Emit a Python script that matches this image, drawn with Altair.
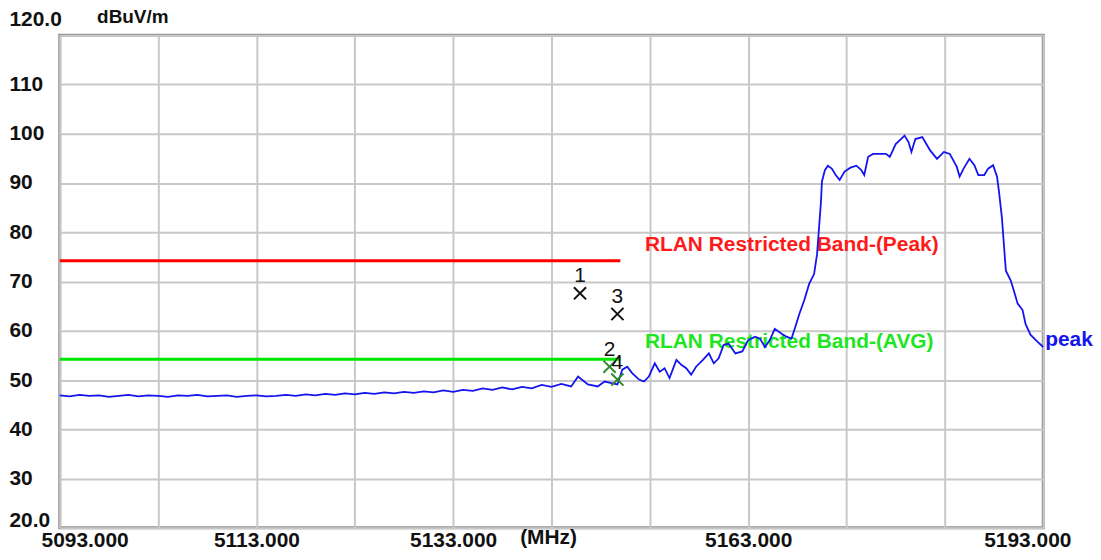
import altair as alt
import pandas as pd

# ---- trace data ----
FREQ_FLAT = list(range(5093, 5145))
LEVEL_FLAT = [46.9, 46.7, 47.0, 46.8, 46.9, 46.6, 46.8, 47.0, 46.7, 46.9,
              46.8, 46.6, 46.9, 46.8, 47.0, 46.7, 46.8, 46.9, 46.6, 46.8,
              46.9, 46.7, 46.8, 47.0, 46.8, 47.1, 46.9, 47.2, 47.0, 47.3,
              47.1, 47.4, 47.2, 47.5, 47.3, 47.6, 47.4, 47.7, 47.5, 47.9,
              47.6, 48.0, 47.8, 48.3, 48.0, 48.5, 48.1, 48.6, 48.3, 49.0,
              48.6, 49.2]
FREQ_DETAIL = [5145.0, 5145.7, 5146.7, 5147.7, 5148.4, 5149.0, 5149.7, 5150.2,
               5150.7, 5151.2, 5151.9, 5152.4, 5152.9, 5153.5, 5154.0, 5154.5,
               5155.0, 5155.7, 5156.2, 5156.7, 5157.2, 5157.7, 5158.4, 5159.0,
               5159.5, 5160.0, 5160.5, 5161.0, 5161.7, 5162.4, 5163.0, 5163.7,
               5164.2, 5164.7, 5165.2, 5165.7, 5166.4, 5166.9, 5167.4, 5167.7,
               5168.2, 5168.7, 5169.2, 5169.7, 5170.0, 5170.2, 5170.4, 5170.5,
               5170.8, 5171.1, 5171.5, 5171.9, 5172.3, 5172.8, 5173.4, 5174.0,
               5174.5, 5174.8, 5175.2, 5175.7, 5176.4, 5177.0, 5177.4, 5178.0,
               5178.9, 5179.3, 5179.6, 5180.0, 5180.7, 5181.0, 5181.5, 5182.2,
               5182.9, 5183.5, 5184.2, 5184.5, 5184.9, 5185.5, 5186.0, 5186.4,
               5187.0, 5187.4, 5187.9, 5188.3, 5188.5, 5188.8, 5189.0, 5189.2,
               5189.7, 5190.0, 5190.4, 5190.9, 5191.2, 5191.7, 5192.4, 5193.0]
LEVEL_DETAIL = [48.7, 50.7, 49.1, 48.7, 49.7, 49.4, 49.1, 52.1,
                52.7, 51.4, 50.1, 49.7, 50.7, 53.4, 51.7, 52.4,
                50.4, 54.1, 53.1, 52.4, 51.1, 52.7, 54.1, 55.4,
                53.4, 54.4, 57.1, 57.4, 55.4, 55.8, 58.1, 58.8,
                58.4, 56.7, 58.1, 60.4, 59.4, 58.8, 58.4, 60.2,
                63.4, 66.2, 69.5, 71.5, 75.5, 80.8, 86.2, 90.3,
                92.6, 93.5, 92.9, 91.6, 90.6, 92.3, 93.1, 93.5,
                92.6, 91.6, 95.3, 95.9, 95.9, 95.9, 95.3, 97.9,
                99.6, 98.3, 96.3, 98.9, 99.3, 98.3, 96.6, 94.9,
                96.3, 95.9, 93.3, 91.3, 92.9, 94.9, 93.6, 91.6,
                91.6, 92.9, 93.6, 91.3, 88.3, 82.9, 77.5, 72.2,
                70.2, 68.2, 65.5, 64.2, 61.4, 59.2, 57.8, 56.7]

# ---- limit lines ----
LIMIT_NAMES = ["RLAN Restricted Band-(Peak)", "RLAN Restricted Band-(AVG)"]
LIMIT_LEVELS = [74.2, 54.2]
LIMIT_START = [5093, 5093]
LIMIT_END = [5150, 5150]
LIMIT_COLORS = ["#ff0000", "#00e600"]
LIMIT_TEXT_COLORS = ["#ff1a1a", "#1ee61e"]
LIMIT_TEXT_FREQ = [5152.5, 5152.5]
LIMIT_TEXT_LEVEL = [77.4, 57.8]

# ---- markers ----
MARKER_IDS = ["1", "2", "3", "4"]
MARKER_FREQ = [5145.9, 5148.9, 5149.7, 5149.7]
MARKER_LEVEL = [67.6, 52.7, 63.4, 50.1]
MARKER_COLORS = ["#111111", "#2e8b2e", "#111111", "#2e8b2e"]

# ---- trace label ----
TRACE_NAME = ["peak"]
TRACE_LABEL_FREQ = [5193]
TRACE_LABEL_LEVEL = [58.2]

X_TICKS = list(range(5093, 5194, 10))
Y_TICKS = list(range(20, 121, 10))
X_LABELED = [5093, 5113, 5133, 5163, 5193]

FONT = "Liberation Sans"

trace = pd.DataFrame({"freq": FREQ_FLAT + FREQ_DETAIL,
                      "level": LEVEL_FLAT + LEVEL_DETAIL})
limits = pd.DataFrame({"name": LIMIT_NAMES, "level": LIMIT_LEVELS,
                       "start": LIMIT_START, "end": LIMIT_END,
                       "color": LIMIT_COLORS, "tcolor": LIMIT_TEXT_COLORS,
                       "tfreq": LIMIT_TEXT_FREQ, "tlevel": LIMIT_TEXT_LEVEL})
markers = pd.DataFrame({"id": MARKER_IDS, "freq": MARKER_FREQ,
                        "level": MARKER_LEVEL, "color": MARKER_COLORS})
tlabel = pd.DataFrame({"name": TRACE_NAME, "freq": TRACE_LABEL_FREQ,
                       "level": TRACE_LABEL_LEVEL})

xscale = alt.Scale(domain=[5093, 5193], nice=False, zero=False)
yscale = alt.Scale(domain=[20, 120], nice=False, zero=False)

label_list = "[" + ",".join(str(v) for v in X_LABELED) + "]"
x_axis = alt.Axis(
    values=X_TICKS,
    labelExpr=f"indexof({label_list}, datum.value) >= 0 ? format(datum.value, '.3f') : ''",
    grid=True, ticks=False, domain=False,
    labelFont=FONT, labelFontSize=21, labelFontWeight="bold", labelColor="#111111",
    labelPadding=2, labelFlush=False, labelOverlap=False,
    labelOffset={"condition": [{"test": "datum.value == 5093", "value": 25},
                               {"test": "datum.value == 5193", "value": -16}],
                 "value": 0},
    title="(MHz)", titleFont=FONT, titleFontSize=21, titleFontWeight="bold",
    titleColor="#111111", titleX=462, titleY=10, titleAlign="left",
    titleBaseline="middle", titleAnchor="start",
)
y_axis = alt.Axis(
    values=Y_TICKS,
    labelExpr="datum.value == 120 ? '120.0' : datum.value == 20 ? '20.0' : datum.value + ''",
    grid=True, ticks=False, domain=False,
    labelFont=FONT, labelFontSize=21, labelFontWeight="bold", labelColor="#111111",
    labelAlign="left", labelBaseline="middle", labelPadding=51,
    labelFlush=False, labelOverlap=False,
    labelOffset={"condition": [{"test": "datum.value == 120", "value": -16},
                               {"test": "datum.value == 20", "value": -7}],
                 "value": 0},
    title="dBuV/m", titleFont=FONT, titleFontSize=19, titleFontWeight="bold",
    titleColor="#111111", titleAngle=0, titleX=37, titleY=-19,
    titleAlign="left", titleBaseline="middle", titleAnchor="start",
)

base_x = alt.X("freq:Q", scale=xscale, axis=x_axis)
base_y = alt.Y("level:Q", scale=yscale, axis=y_axis)

grid_layer = alt.Chart(trace).mark_line(opacity=0).encode(x=base_x, y=base_y)

limit_text = alt.Chart(limits).mark_text(
    align="left", baseline="middle", font=FONT, fontSize=21, fontWeight="bold"
).encode(
    x=alt.X("tfreq:Q", scale=xscale),
    y=alt.Y("tlevel:Q", scale=yscale),
    text="name:N",
    color=alt.Color("tcolor:N", scale=None),
)

limit_rules = alt.Chart(limits).mark_rule(strokeWidth=3).encode(
    x=alt.X("start:Q", scale=xscale),
    x2="end:Q",
    y=alt.Y("level:Q", scale=yscale),
    color=alt.Color("color:N", scale=None),
)

trace_line = alt.Chart(trace).mark_line(color="#1414f0", strokeWidth=1.8).encode(
    x=alt.X("freq:Q", scale=xscale),
    y=alt.Y("level:Q", scale=yscale),
)

trace_text = alt.Chart(tlabel).mark_text(
    align="left", baseline="middle", dx=2, font=FONT, fontSize=21,
    fontWeight="bold", color="#1414f0"
).encode(
    x=alt.X("freq:Q", scale=xscale),
    y=alt.Y("level:Q", scale=yscale),
    text="name:N",
)

marker_pts = alt.Chart(markers).mark_point(
    shape="M-1,-1L1,1M-1,1L1,-1", filled=False, size=150, strokeWidth=2, opacity=1
).encode(
    x=alt.X("freq:Q", scale=xscale),
    y=alt.Y("level:Q", scale=yscale),
    color=alt.Color("color:N", scale=None),
)

marker_text = alt.Chart(markers).mark_text(
    align="center", baseline="middle", dy=-17, font=FONT, fontSize=21,
    color="#111111"
).encode(
    x=alt.X("freq:Q", scale=xscale),
    y=alt.Y("level:Q", scale=yscale),
    text="id:N",
)

chart = alt.layer(
    grid_layer, limit_text, limit_rules, trace_line, trace_text, marker_pts, marker_text
).properties(
    width=988, height=495,
    autosize=alt.AutoSizeParams(type="none"),
    padding={"left": 52, "top": 26, "right": 50, "bottom": 21},
    background="white",
).configure_view(
    stroke="#8f8f8f", strokeWidth=3
).configure_axis(
    gridColor="#c8c8c8", gridWidth=2, gridOpacity=1
)

chart.save("out.html", embed_options={"renderer": "svg", "actions": False})
